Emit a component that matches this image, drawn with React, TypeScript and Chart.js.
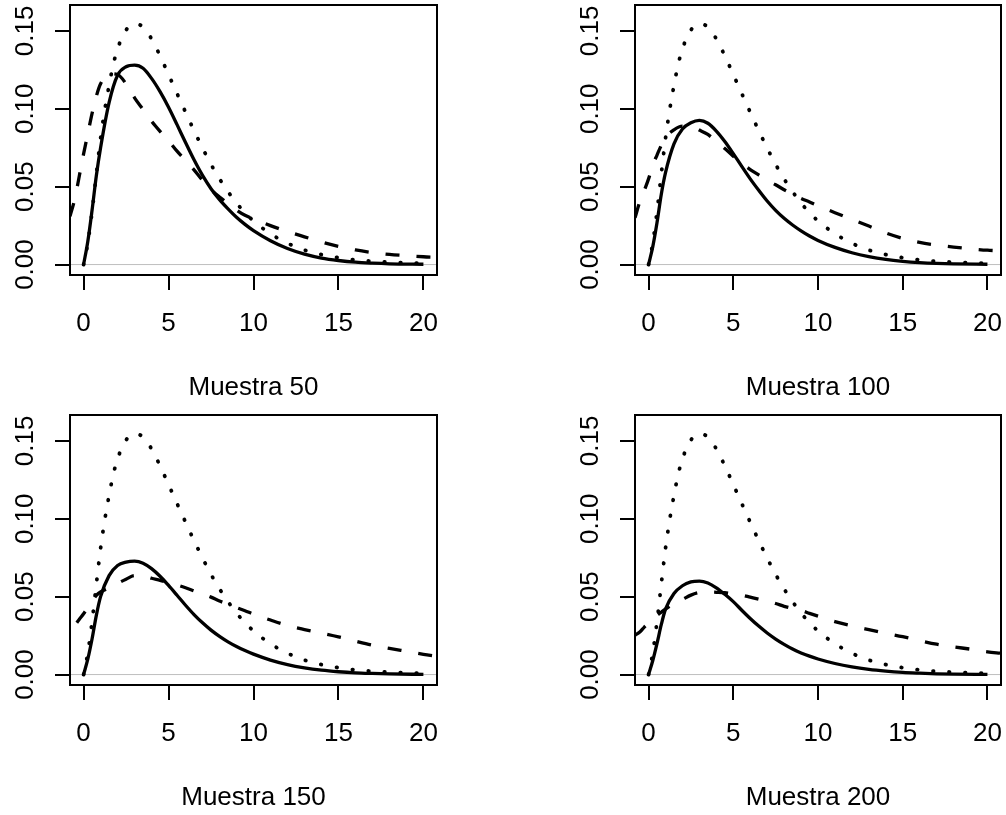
import React, { useEffect, useRef } from "react";
import { Chart, registerables } from "chart.js";

Chart.register(...registerables);

// ---- axis ticks / labels ----
const X_TICKS = [0, 5, 10, 15, 20];
const X_TICK_LABELS = ["0", "5", "10", "15", "20"];
const Y_TICKS = [0, 0.05, 0.1, 0.15];
const Y_TICK_LABELS = ["0.00", "0.05", "0.10", "0.15"];
const PANEL_TITLES = ["Muestra 50", "Muestra 100", "Muestra 150", "Muestra 200"];

// ---- solid curves ----
const SOLID_X = [0, 0.25, 0.5, 0.75, 1, 1.5, 2, 2.5, 3, 3.5, 4, 4.5, 5, 5.5, 6, 6.5, 7, 7.5, 8, 8.5, 9, 9.5, 10, 11, 12, 13, 14, 15, 16, 17, 18, 20];
const SOLID_50 = [0, 0.015, 0.035, 0.057, 0.075, 0.104, 0.1215, 0.127, 0.128, 0.126, 0.1195, 0.111, 0.101, 0.0898, 0.0783, 0.0672, 0.0572, 0.0487, 0.0417, 0.0358, 0.0304, 0.0258, 0.0218, 0.0153, 0.0103, 0.0067, 0.0042, 0.0026, 0.0015, 0.0009, 0.0005, 0.0002];
const SOLID_100 = [0, 0.0115, 0.027, 0.045, 0.059, 0.0775, 0.087, 0.091, 0.0925, 0.0907, 0.0857, 0.079, 0.0712, 0.063, 0.055, 0.0477, 0.0408, 0.0348, 0.0297, 0.0254, 0.0216, 0.0183, 0.0155, 0.011, 0.0076, 0.0051, 0.0033, 0.0021, 0.0013, 0.0008, 0.0005, 0.0002];
const SOLID_150 = [0, 0.01, 0.023, 0.038, 0.05, 0.0635, 0.07, 0.0722, 0.0728, 0.0715, 0.068, 0.0631, 0.0572, 0.0509, 0.0445, 0.0385, 0.0332, 0.0285, 0.0245, 0.021, 0.018, 0.0154, 0.0131, 0.0093, 0.0064, 0.0043, 0.0028, 0.0018, 0.0011, 0.0007, 0.0004, 0.0001];
const SOLID_200 = [0, 0.009, 0.02, 0.032, 0.042, 0.052, 0.057, 0.0595, 0.06, 0.0588, 0.0557, 0.0515, 0.0468, 0.0413, 0.036, 0.0311, 0.0267, 0.0228, 0.0194, 0.0164, 0.0139, 0.0118, 0.01, 0.0071, 0.0049, 0.0033, 0.0022, 0.0014, 0.0009, 0.0005, 0.0003, 0.0001];

// ---- dotted curve (same in every panel) ----
const DOTTED_X = [0, 0.25, 0.5, 0.75, 1, 1.25, 1.5, 1.75, 2, 2.5, 3, 3.5, 4, 4.5, 5, 5.5, 6, 6.5, 7, 7.5, 8, 8.5, 9, 9.5, 10, 11, 12, 13, 14, 15, 16, 17, 18, 19, 20];
const DOTTED = [0, 0.014, 0.034, 0.058, 0.081, 0.0995, 0.115, 0.1285, 0.1385, 0.1505, 0.1545, 0.1525, 0.1448, 0.134, 0.122, 0.1098, 0.0978, 0.086, 0.0748, 0.0643, 0.055, 0.0468, 0.0395, 0.0333, 0.028, 0.0198, 0.0137, 0.0093, 0.0064, 0.0044, 0.003, 0.0021, 0.0015, 0.0011, 0.0008];

// ---- dashed curves ----
const DASHED_X = [-0.8, -0.5, -0.25, 0, 0.25, 0.5, 0.75, 1, 1.5, 2, 2.5, 3, 3.5, 4, 4.5, 5, 5.5, 6, 6.5, 7, 7.5, 8, 8.5, 9, 9.5, 10, 11, 12, 13, 14, 15, 16, 17, 18, 19, 20, 20.8];
const DASHED_50 = [0.031, 0.043, 0.057, 0.071, 0.084, 0.097, 0.108, 0.116, 0.1225, 0.122, 0.116, 0.107, 0.0995, 0.092, 0.0855, 0.0795, 0.0728, 0.0668, 0.0608, 0.054, 0.0481, 0.0434, 0.0392, 0.035, 0.0316, 0.0293, 0.025, 0.0212, 0.0178, 0.0145, 0.0117, 0.0094, 0.0077, 0.0065, 0.0057, 0.005, 0.0047];
const DASHED_100 = [0.03, 0.041, 0.0476, 0.055, 0.0638, 0.0703, 0.0765, 0.0816, 0.0865, 0.0888, 0.0888, 0.0863, 0.0835, 0.079, 0.0745, 0.0695, 0.065, 0.061, 0.0575, 0.054, 0.0512, 0.048, 0.0452, 0.0425, 0.0402, 0.0378, 0.0333, 0.029, 0.0247, 0.0203, 0.0168, 0.0142, 0.0125, 0.0112, 0.0101, 0.0092, 0.0088];
const DASHED_X_150 = [-0.4, -0.25, 0, 0.25, 0.5, 0.75, 1, 1.5, 2, 2.5, 3, 3.5, 4, 4.5, 5, 5.5, 6, 6.5, 7, 7.5, 8, 8.5, 9, 9.5, 10, 11, 12, 13, 14, 15, 16, 17, 18, 19, 20, 20.8];
const DASHED_150 = [0.0333, 0.0355, 0.039, 0.043, 0.047, 0.0508, 0.053, 0.0555, 0.0585, 0.0612, 0.0635, 0.0635, 0.0618, 0.0605, 0.059, 0.0575, 0.0557, 0.0537, 0.0518, 0.0497, 0.0472, 0.0451, 0.043, 0.041, 0.0388, 0.035, 0.0315, 0.0289, 0.0266, 0.0242, 0.0214, 0.0188, 0.0168, 0.0149, 0.013, 0.0117];
const DASHED_200 = [0.0252, 0.0275, 0.0305, 0.033, 0.0355, 0.038, 0.04, 0.042, 0.0455, 0.0482, 0.051, 0.0527, 0.053, 0.0528, 0.0525, 0.0518, 0.051, 0.0497, 0.0484, 0.047, 0.0456, 0.0438, 0.0424, 0.0412, 0.0393, 0.0375, 0.034, 0.0312, 0.0288, 0.0265, 0.0243, 0.0218, 0.0195, 0.0178, 0.0163, 0.0146, 0.0137];

// ---- zero reference line ----
const ZERO_LINE_X = [-0.8, 20.8];
const ZERO_LINE_Y = [0, 0];

const SOLID_SERIES = [SOLID_50, SOLID_100, SOLID_150, SOLID_200];
const DASHED_X_SERIES = [DASHED_X, DASHED_X, DASHED_X_150, DASHED_X];
const DASHED_SERIES = [DASHED_50, DASHED_100, DASHED_150, DASHED_200];

const FONT = '"Liberation Sans", Arial, Helvetica, sans-serif';
const FONT_SIZE = 26;

const zip = (xs: number[], ys: number[]) => xs.map((x, i) => ({ x, y: ys[i] }));

const CANVAS_W = 503;
const CANVAS_H = 408;

const boxAndYLabels = {
  id: "boxAndYLabels",
  afterDraw(chart: any) {
    const ctx = chart.ctx;
    const s = chart.scales.y;
    const a = chart.chartArea;
    ctx.save();
    ctx.fillStyle = "#000";
    ctx.font = `${FONT_SIZE}px ${FONT}`;
    ctx.textAlign = "center";
    ctx.textBaseline = "alphabetic";
    Y_TICKS.forEach((v, i) => {
      const y = s.getPixelForValue(v);
      ctx.save();
      ctx.translate(s.right - 36.7, y);
      ctx.rotate(-Math.PI / 2);
      ctx.fillText(Y_TICK_LABELS[i], 0, 0);
      ctx.restore();
    });
    ctx.strokeStyle = "#000";
    ctx.lineWidth = 2;
    ctx.strokeRect(a.left, a.top, a.right - a.left, a.bottom - a.top);
    ctx.restore();
  },
};

function Panel({ index }: { index: number }) {
  const ref = useRef<HTMLCanvasElement | null>(null);
  const col = index % 2;
  const row = Math.floor(index / 2);
  useEffect(() => {
    if (!ref.current) return;
    const chart = new Chart(ref.current, {
      type: "line",
      data: {
        datasets: [
          {
            data: zip(SOLID_X, SOLID_SERIES[index]),
            borderColor: "#000",
            borderWidth: 3.3,
            pointRadius: 0,
            cubicInterpolationMode: "monotone",
            fill: false,
          },
          {
            data: zip(DASHED_X_SERIES[index], DASHED_SERIES[index]),
            borderColor: "#000",
            borderWidth: 3.3,
            borderDash: [14, 17],
            borderCapStyle: "butt",
            pointRadius: 0,
            cubicInterpolationMode: "monotone",
            fill: false,
          },
          {
            data: zip(DOTTED_X, DOTTED),
            borderColor: "#000",
            borderWidth: 3.8,
            borderDash: [0.5, 15.5],
            borderCapStyle: "round",
            pointRadius: 0,
            cubicInterpolationMode: "monotone",
            fill: false,
          },
          {
            data: zip(ZERO_LINE_X, ZERO_LINE_Y),
            borderColor: "#BEBEBE",
            borderWidth: 1,
            pointRadius: 0,
            fill: false,
          },
        ],
      } as any,
      options: {
        animation: false,
        responsive: false,
        events: [],
        layout: {
          padding: { left: col ? 62 : 0, right: col ? 5 : 66, top: 5, bottom: 0 },
        },
        plugins: { legend: { display: false }, tooltip: { enabled: false } },
        scales: {
          x: {
            type: "linear",
            min: -0.8,
            max: 20.8,
            position: "bottom",
            afterBuildTicks: (s: any) => {
              s.ticks = X_TICKS.map((v) => ({ value: v }));
            },
            afterFit: (s: any) => {
              s.height = 133;
              s.paddingLeft = 0;
              s.paddingRight = 0;
            },
            ticks: {
              font: { family: FONT, size: FONT_SIZE },
              color: "#000",
              padding: 18,
              maxRotation: 0,
              minRotation: 0,
              autoSkip: false,
              callback: (_v: any, i: number) => X_TICK_LABELS[i],
            },
            grid: { drawOnChartArea: false, drawTicks: true, tickLength: 15, color: "#000", lineWidth: 2 },
            border: { display: false },
            title: {
              display: true,
              text: PANEL_TITLES[index],
              font: { family: FONT, size: FONT_SIZE },
              color: "#000",
              padding: { top: 0, bottom: 5 },
            },
          },
          y: {
            type: "linear",
            min: -0.0067,
            max: 0.1666,
            afterBuildTicks: (s: any) => {
              s.ticks = Y_TICKS.map((v) => ({ value: v }));
            },
            afterFit: (s: any) => {
              s.width = 70;
              s.paddingTop = 0;
              s.paddingBottom = 0;
            },
            ticks: { display: false },
            grid: { drawOnChartArea: false, drawTicks: true, tickLength: 15, color: "#000", lineWidth: 2 },
            border: { display: false },
          },
        },
      } as any,
      plugins: [boxAndYLabels],
    });
    return () => chart.destroy();
  }, [index]);
  return (
    <canvas
      ref={ref}
      width={CANVAS_W}
      height={CANVAS_H}
      style={{ position: "absolute", left: col * 503, top: row * 410, width: CANVAS_W, height: CANVAS_H, display: "block" }}
    />
  );
}

export default function App() {
  return (
    <div
      style={{
        position: "fixed",
        left: 0,
        top: 0,
        width: 1006,
        height: 815,
        overflow: "hidden",
        background: "#fff",
      }}
    >
      {[0, 1, 2, 3].map((i) => (
        <Panel key={i} index={i} />
      ))}
    </div>
  );
}
